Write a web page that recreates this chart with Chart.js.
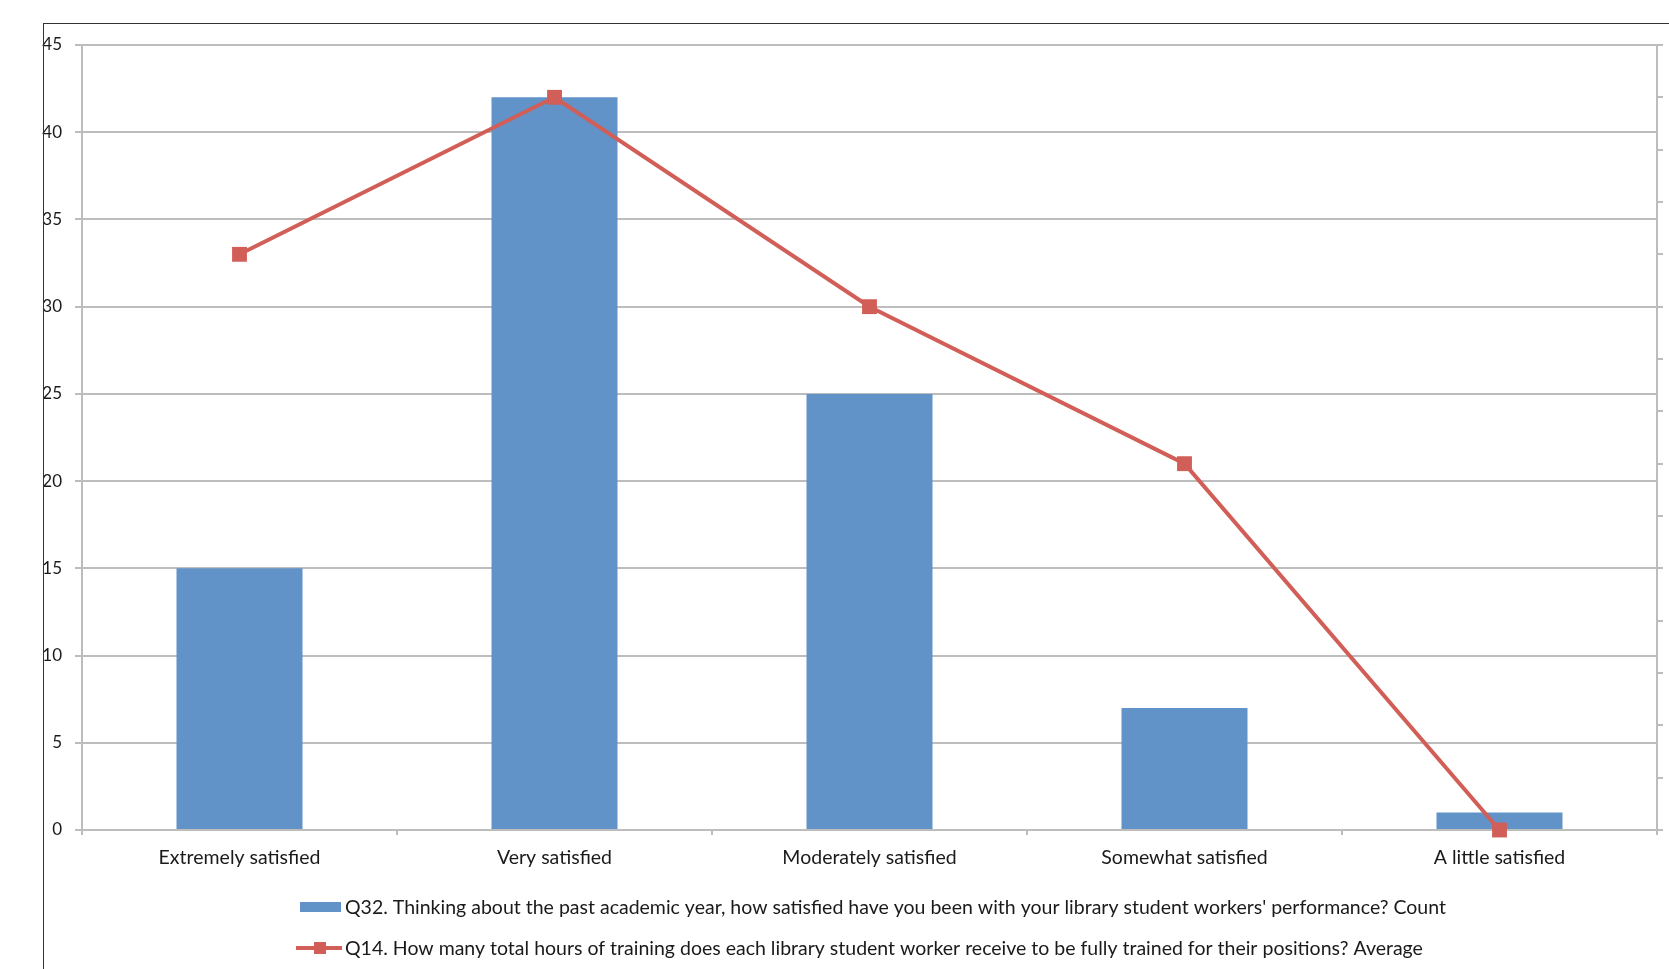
<!DOCTYPE html>
<html>
<head>
<meta charset="utf-8">
<script src="https://cdn.jsdelivr.net/npm/chart.js@4/dist/chart.umd.min.js"></script>
<style>
  html, body { margin: 0; padding: 0; background: #fff; overflow: hidden; }
  #wrap { position: relative; width: 1669px; height: 969px; }
  #frame { position: absolute; left: 43px; top: 23px; width: 2000px; height: 2000px;
           border: 1.5px solid #333; box-sizing: border-box; pointer-events: none; }
</style>
</head>
<body>
<div id="wrap">
  <canvas id="chart" width="1669" height="969"></canvas>
  <div id="frame"></div>
</div>
<script>
// data
const categories = ['Extremely satisfied', 'Very satisfied', 'Moderately satisfied', 'Somewhat satisfied', 'A little satisfied'];
const countValues = [15, 42, 25, 7, 1];
const hoursValues = [33, 42, 30, 21, 0];
const countLabel = "Q32. Thinking about the past academic year, how satisfied have you been with your library student workers' performance? Count";
const hoursLabel = 'Q14. How many total hours of training does each library student worker receive to be fully trained for their positions? Average';
const yTicks = [0, 5, 10, 15, 20, 25, 30, 35, 40, 45];

const FONT = 'Lato, "Open Sans", sans-serif';
const BLUE = '#6193C8';
const RED = '#D25E58';
const GRID = '#BDBDBD';

// legend at the bottom, drawn by hand so both rows start at the same x
const bottomLegend = {
  id: 'bottomLegend',
  afterDraw(chart) {
    const ctx = chart.ctx;
    const x0 = 300, textX = 345;
    const rows = [907, 948];
    ctx.save();
    ctx.font = '19.5px ' + FONT;
    ctx.textBaseline = 'middle';
    chart.data.datasets.forEach((ds, i) => {
      const y = rows[i];
      if (ds.type === 'bar') {
        ctx.fillStyle = ds.backgroundColor;
        ctx.fillRect(x0, y - 5, 41, 10);
      } else {
        ctx.strokeStyle = ds.borderColor;
        ctx.lineWidth = 4;
        ctx.beginPath();
        ctx.moveTo(x0 - 4, y);
        ctx.lineTo(x0 + 42, y);
        ctx.stroke();
        ctx.fillStyle = ds.borderColor;
        ctx.fillRect(x0 + 14, y - 6, 12, 12);
      }
      ctx.fillStyle = '#1a1a1a';
      ctx.fillText(ds.label, textX, y + 1);
    });
    ctx.restore();
  }
};

new Chart(document.getElementById('chart'), {
  data: {
    labels: categories,
    datasets: [
      {
        type: 'bar',
        label: countLabel,
        data: countValues,
        backgroundColor: BLUE,
        barPercentage: 0.8,
        categoryPercentage: 0.5,
        order: 2
      },
      {
        type: 'line',
        label: hoursLabel,
        data: hoursValues,
        borderColor: RED,
        backgroundColor: RED,
        borderWidth: 4,
        pointStyle: 'rect',
        pointRadius: 10.5,
        pointBorderWidth: 0,
        pointBackgroundColor: RED,
        tension: 0,
        clip: false,
        order: 1
      }
    ]
  },
  options: {
    responsive: false,
    animation: false,
    layout: { padding: { top: 45, left: 0, right: 0, bottom: 0 } },
    plugins: {
      legend: { display: false },
      tooltip: { enabled: false }
    },
    scales: {
      x: {
        offset: true,
        grid: { display: true, drawOnChartArea: false, drawTicks: true, tickLength: 5, color: GRID, lineWidth: 2, offset: true },
        border: { display: true, color: GRID, width: 2 },
        ticks: { font: { family: FONT, size: 19.5 }, color: '#1a1a1a', padding: 11, maxRotation: 0 },
        afterFit: s => { s.height = 139; }
      },
      y: {
        position: 'left',
        min: 0,
        max: 45,
        afterBuildTicks: s => { s.ticks = yTicks.map(v => ({ value: v })); },
        grid: { color: GRID, lineWidth: 2, drawTicks: true, tickLength: 7 },
        border: { display: true, color: GRID, width: 2 },
        ticks: { font: { family: FONT, size: 17 }, color: '#1a1a1a', padding: 13 },
        afterFit: s => { s.width = 82; }
      },
      y1: {
        position: 'right',
        min: 0,
        max: 15,
        ticks: { stepSize: 1, color: 'rgba(0,0,0,0)', padding: 0 },
        grid: { drawOnChartArea: false, drawTicks: true, tickLength: 6, color: GRID, lineWidth: 2 },
        border: { display: true, color: GRID, width: 2 },
        afterFit: s => { s.width = 12; }
      }
    }
  },
  plugins: [bottomLegend]
});
</script>
</body>
</html>
